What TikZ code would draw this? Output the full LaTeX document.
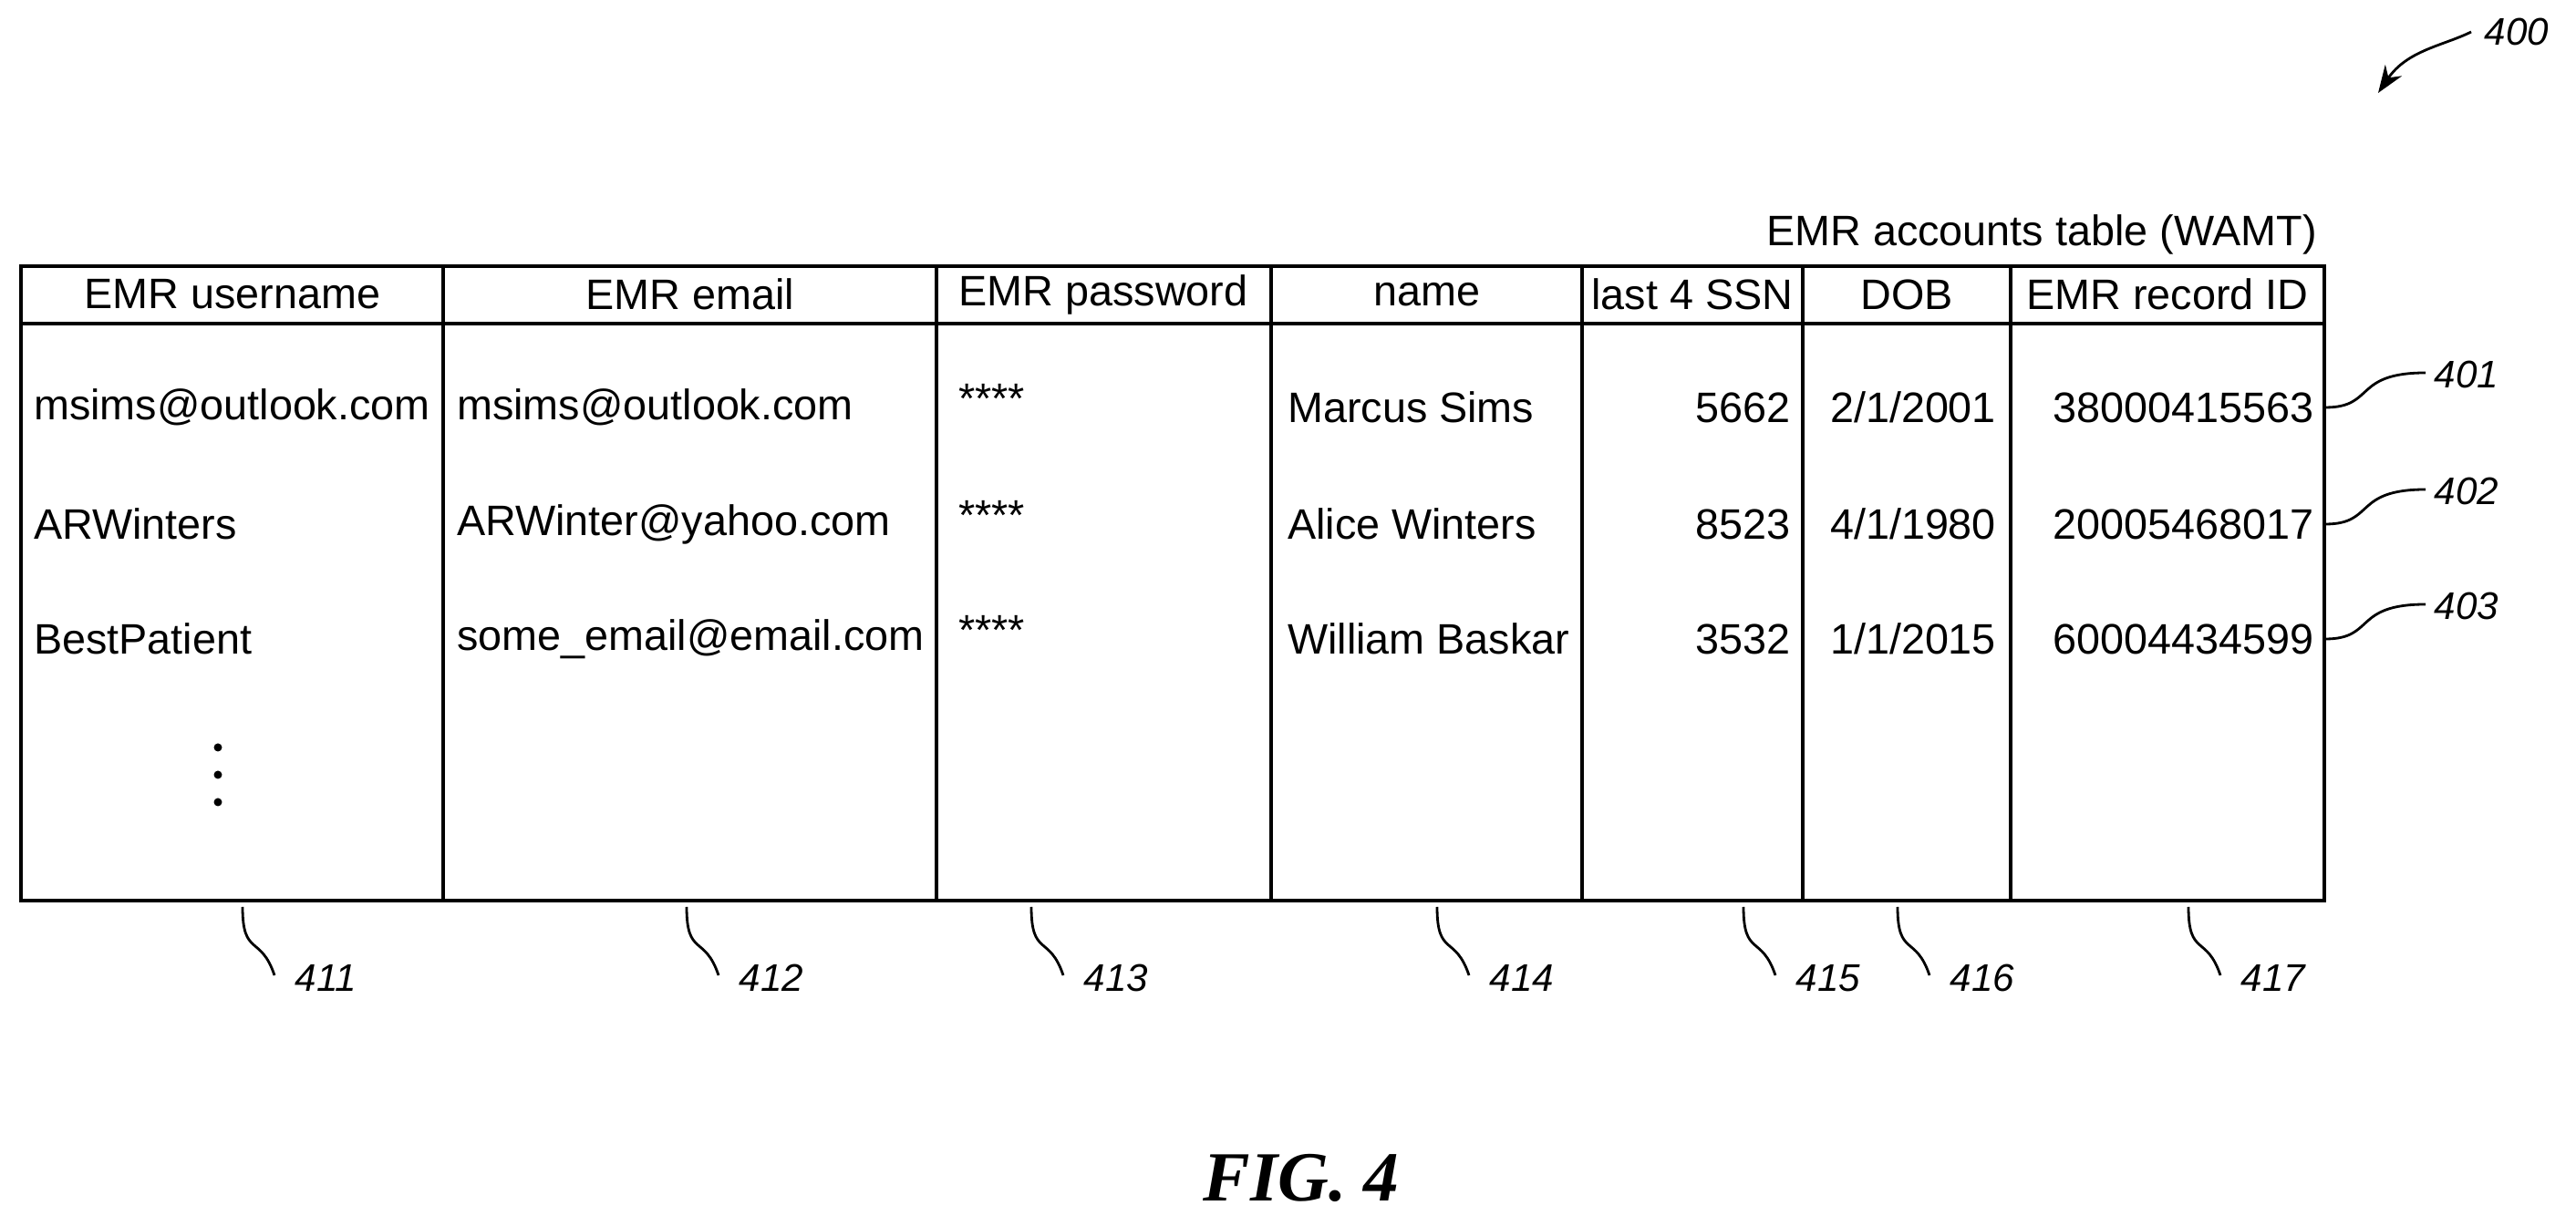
\documentclass[tikz,border=0pt]{standalone}
\usepackage{fontspec}
\setmainfont{Liberation Sans}
\newfontfamily\figfont{Liberation Serif}
\usetikzlibrary{arrows.meta}
\tikzset{cell/.style={font=\fontsize{13.3}{15}\selectfont, inner sep=1pt},
  refnum/.style={font=\fontsize{12}{14}\selectfont\itshape, inner sep=2pt},
  lead/.style={line width=0.8pt}}
\begin{document}
\begin{tikzpicture}[x=1cm,y=1cm]
\useasboundingbox (0,0) rectangle (28.25,13.45);
% table frame
\draw[line width=1pt] (0.23,3.57) rectangle (25.49,10.53);
\draw[line width=1pt] (0.23,9.90) -- (25.49,9.90);
\foreach \x in {4.86,10.27,13.94,17.35,19.77,22.05}
  \draw[line width=1pt] (\x,3.57) -- (\x,10.53);
\node[cell, anchor=south east] (title) at (25.45,10.62) {EMR accounts table (WAMT)};
% headers
\node[cell] (h1) at (2.55,10.22) {EMR username};
\node[cell] (h2) at (7.57,10.22) {EMR email};
\node[cell] (h3) at (12.1,10.22) {EMR password};
\node[cell] (h4) at (15.65,10.22) {name};
\node[cell] (h5) at (18.56,10.22) {last 4 SSN};
\node[cell] (h6) at (20.91,10.22) {DOB};
\node[cell] (h7) at (23.77,10.22) {EMR record ID};
% rows
\foreach \r/\y/\u/\e/\n/\s/\d/\i in {1/8.98/msims@outlook.com/msims@outlook.com/Marcus Sims/5662/{2/1/2001}/38000415563,
  2/7.70/ARWinters/ARWinter@yahoo.com/Alice Winters/8523/{4/1/1980}/20005468017,
  3/6.44/BestPatient/some\_email@email.com/William Baskar/3532/{1/1/2015}/60004434599}{
  \node[cell, anchor=west] (u\r) at (0.33,\y) {\u};
  \node[cell, anchor=west] (e\r) at (4.97,\y) {\e};
  \node[cell, anchor=west] (p\r) at (10.47,\y+0.1) {****};
  \node[cell, anchor=west] (n\r) at (14.08,\y) {\n};
  \node[cell, anchor=east] (s\r) at (19.68,\y) {\s};
  \node[cell] (d\r) at (20.98,\y) {\d};
  \node[cell, anchor=east] (i\r) at (25.42,\y) {\i};
}
\foreach \y in {5.25,4.95,4.65} \fill (2.39,\y) circle (0.045);
% row references
\foreach \r/\y in {1/8.98,2/7.70,3/6.44}{
  \coordinate (rr\r) at (25.50,\y);
  \node[refnum] (r\r) at (27.05,\y+0.36) {40\r};
  \draw[lead] (rr\r) .. controls (26.05,\y) and (25.8,\y+0.38) .. (26.6,\y+0.38);
}
% column references
\foreach \c/\x in {1/2.66,2/7.53,3/11.31,4/15.76,5/19.12,6/20.81,7/24.0}{
  \coordinate (cc\c) at (\x,3.50);
  \node[refnum, anchor=west] (c\c) at (\x+0.5,2.72) {41\c};
  \draw[lead] (cc\c) .. controls (\x,2.95) and (\x+0.2,3.2) .. (\x+0.35,2.75);
}
% figure reference
\node[refnum] (f400) at (27.6,13.1) {400};
\coordinate (f400end) at (26.08,12.43);
\draw[lead,-{Stealth[length=3mm,width=2.2mm]}] (27.1,13.1) .. controls (26.8,12.95) and (26.4,12.9) .. (f400end);
\node[font=\figfont\fontsize{22}{24}\selectfont\bfseries\itshape] (fig) at (14.27,0.53) {FIG. 4};
\end{tikzpicture}
\end{document}
